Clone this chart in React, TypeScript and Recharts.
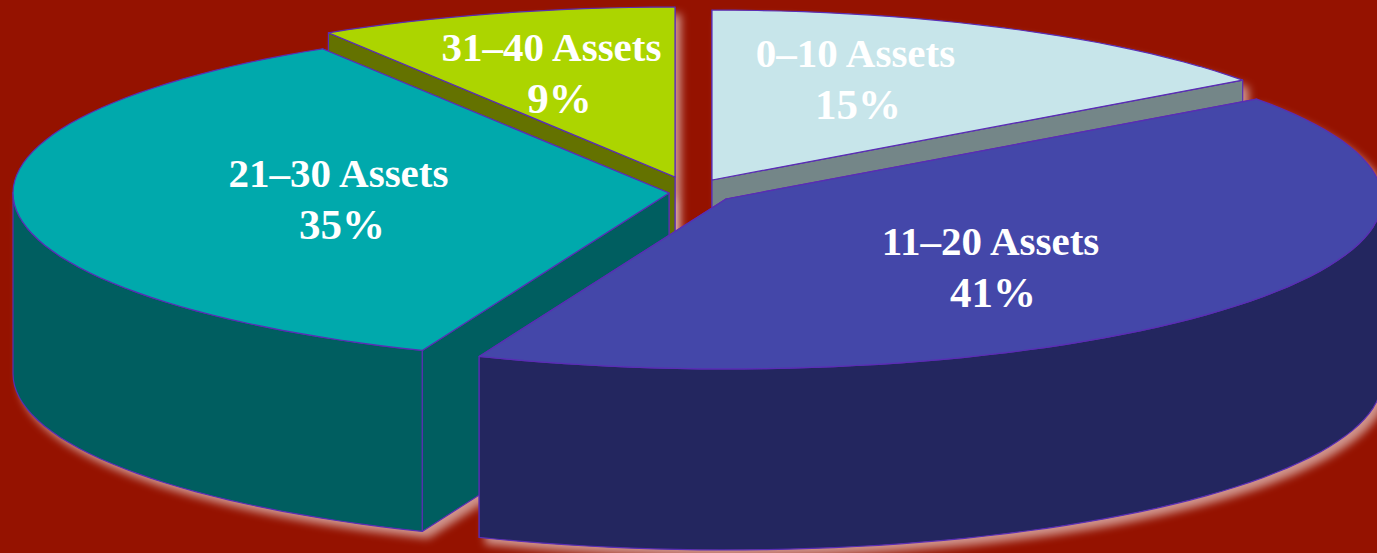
import React from 'react';
import { PieChart, Pie } from 'recharts';

// clockwise from the 31-40 slice, which is the one furthest back
const categories = ['31–40 Assets', '0–10 Assets', '11–20 Assets', '21–30 Assets'];
const shares = [8.86, 15, 41.14, 35];

const topColors = ['#ACD500', '#C7E5EA', '#4447A9', '#00A9AC'];
const wallColors = ['#647200', '#748688', '#23265F', '#005E60'];
// how far each slice is pulled out of the pie centre
const explodeX = [-15, 22, 36, -21];
const explodeY = [-13, -10, 9, 3];
const labelX = [551.5, 855.5, 990.5, 338.5];
const percentX = [559.5, 858, 993, 342];
const labelY = [61, 67, 255, 187];

const chartData = categories.map((name, i) => ({ name, value: shares[i] }));

const BG = '#951200';
const EDGE = '#5A2DB4';
const TILT = 0.259;
const DEPTH = 181;
const START = 90 + shares[0] * 3.6;

const rad = (deg: number) => (deg * Math.PI) / 180;

const arcPoints = (cx: number, cy: number, rx: number, from: number, to: number) => {
  const steps = Math.max(2, Math.ceil(Math.abs(to - from) / 2));
  const pts: [number, number][] = [];
  for (let s = 0; s <= steps; s++) {
    const a = rad(from + ((to - from) * s) / steps);
    pts.push([cx + rx * Math.cos(a), cy - rx * TILT * Math.sin(a)]);
  }
  return pts;
};

const toPath = (pts: [number, number][]) =>
  'M' + pts.map((p) => `${p[0].toFixed(1)},${p[1].toFixed(1)}`).join('L') + 'Z';

// the library hands over the angles, the slice is then drawn squashed with a wall under it
const sliceShape = (visible: number[], haloOnly = false) => (props: any) => {
  const { cx, cy, outerRadius, startAngle, endAngle, index } = props;
  if (!visible.includes(index)) return <g />;
  const x = cx + explodeX[index];
  const y = cy + explodeY[index];
  const arc = arcPoints(x, y, outerRadius, startAngle, endAngle);
  const down = (p: [number, number]): [number, number] => [p[0], p[1] + DEPTH];
  // the cut edge nearer the back goes first so the nearer one covers it
  const edges = [arc[0], arc[arc.length - 1]].sort((a, b) => a[1] - b[1]);
  // only the part of the rim facing the viewer gets a wall
  const front = arc.filter((p) => p[1] >= y - 1);
  const pieces = edges.map((p) => toPath([[x, y], p, down(p), [x, y + DEPTH]]));
  if (front.length > 1) pieces.push(toPath([...front, ...front.map(down).reverse()]));
  const top = toPath([[x, y], ...arc]);

  if (haloOnly) {
    return (
      <g filter="url(#halo)" fill="#FFFFFF" opacity={0.55} transform="translate(6 7)">
        {pieces.map((d, i) => <path key={i} d={d} />)}
        <path d={top} />
      </g>
    );
  }
  return (
    <g stroke={EDGE} strokeWidth={1.2} strokeLinejoin="round">
      {pieces.map((d, i) => <path key={i} d={d} fill={wallColors[index]} />)}
      <path d={top} fill={topColors[index]} />
    </g>
  );
};

const renderLabel = (props: any) => {
  const i = props.index;
  return (
    <text
      key={categories[i]}
      x={labelX[i]}
      y={labelY[i]}
      textAnchor="middle"
      fill="#FFFFFF"
      fontFamily="'Liberation Serif', serif"
      fontWeight="bold"
      fontSize={41}
    >
      <tspan x={labelX[i]}>{categories[i]}</tspan>
      <tspan x={percentX[i]} dy={52} fontSize={43}>{`${Math.round(shares[i])}%`}</tspan>
    </text>
  );
};

const pieProps = {
  data: chartData,
  dataKey: 'value',
  nameKey: 'name',
  cx: 690,
  cy: 190,
  outerRadius: 656,
  startAngle: START,
  endAngle: START - 360,
  stroke: 'none',
  isAnimationActive: false,
};

export default function App() {
  return (
    <div style={{ position: 'absolute', left: 0, top: 0, width: 1377, height: 553, background: BG, overflow: 'hidden' }}>
      <PieChart width={1377} height={553} margin={{ top: 0, right: 0, bottom: 0, left: 0 }}>
        <defs>
          <filter id="halo" x="-20" y="-20" width="1420" height="600" filterUnits="userSpaceOnUse">
            <feGaussianBlur stdDeviation={4.5} />
          </filter>
        </defs>
        <Pie {...pieProps} shape={sliceShape([0, 1, 2, 3], true)} />
        <Pie {...pieProps} shape={sliceShape([0, 1, 3])} />
        <Pie {...pieProps} shape={sliceShape([2])} label={renderLabel} labelLine={false} />
      </PieChart>
    </div>
  );
}
